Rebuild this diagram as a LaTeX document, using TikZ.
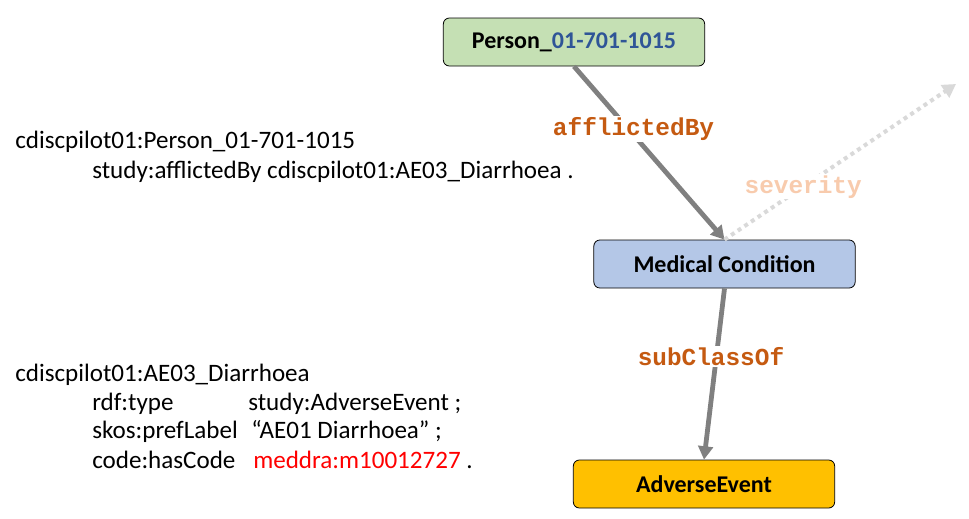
\documentclass[tikz,border=0pt]{standalone}
\usepackage{fontspec}
\setmainfont{Carlito}
\newfontfamily\codefont{Liberation Mono}
\usetikzlibrary{arrows.meta, positioning}
\definecolor{persgreen}{HTML}{C5E0B4}
\definecolor{condblue}{HTML}{B4C7E7}
\definecolor{aegold}{HTML}{FFC000}
\definecolor{idblue}{HTML}{2F5597}
\definecolor{proporange}{HTML}{C55A11}
\definecolor{sevpeach}{HTML}{F8CBAD}
\definecolor{linkgray}{HTML}{808080}
\definecolor{ghostgray}{HTML}{D9D9D9}
\tikzset{
  cls/.style    = {draw=black, line width=0.6pt, rounded corners=4.5pt,
                   minimum width=196pt, minimum height=36pt, inner sep=0pt,
                   font=\fontsize{18}{20}\selectfont\bfseries},
  link/.style   = {-{Triangle[length=10pt,width=11pt]}, draw=linkgray, line width=3.6pt},
  ghost/.style  = {-{Triangle[length=10pt,width=11pt]}, draw=ghostgray, line width=3pt,
                   dash pattern=on 3pt off 3pt},
  prop/.style   = {fill=white, inner sep=1pt, text=proporange,
                   font=\codefont\fontsize{18.3}{20}\selectfont\bfseries},
  ttl/.style    = {anchor=base west, inner sep=0pt,
                   font=\fontsize{18.8}{22}\selectfont},
}

\begin{document}
\begin{tikzpicture}[x=0.75pt, y=-0.75pt]
\useasboundingbox (0,0) rectangle (969,518);

% class boxes
\node[cls, fill=persgreen] (pers) at (574,42) {Person\_\textcolor{idblue}{01-701-1015}};
\node[cls, fill=condblue] (cond) at (724.5,264) {Medical Condition};
\node[cls, fill=aegold] (ae) at (704,484) {AdverseEvent};
\coordinate (sev) at (956,84);

% properties
\draw[link] (pers.south) -- (cond.north) node[prop, pos=0.36, xshift=4pt] {afflictedBy};
\draw[ghost] (cond.north) -- (sev) node[prop, text=sevpeach, pos=0.34] {severity};
\draw[link] (cond.south) -- (ae.north) node[prop, pos=0.40, xshift=-4pt] {subClassOf};

% turtle text
\node[ttl] (t1) at (15,148) {cdiscpilot01:Person\_01-701-1015};
\node[ttl] (t2) at (92,178) {study:afflictedBy cdiscpilot01:AE03\_Diarrhoea .};
\node[ttl] (t3) at (15,381) {cdiscpilot01:AE03\_Diarrhoea};
\node[ttl] (t4) at (92,410) {rdf:type};
\node[ttl] (t5) at (248,410) {study:AdverseEvent ;};
\node[ttl] (t6) at (92,438) {skos:prefLabel};
\node[ttl] (t7) at (251,438) {“AE01 Diarrhoea” ;};
\node[ttl] (t8) at (92,468) {code:hasCode};
\node[ttl] (t9) at (253,468) {\textcolor{red}{meddra:m10012727} .};

\end{tikzpicture}
\end{document}
